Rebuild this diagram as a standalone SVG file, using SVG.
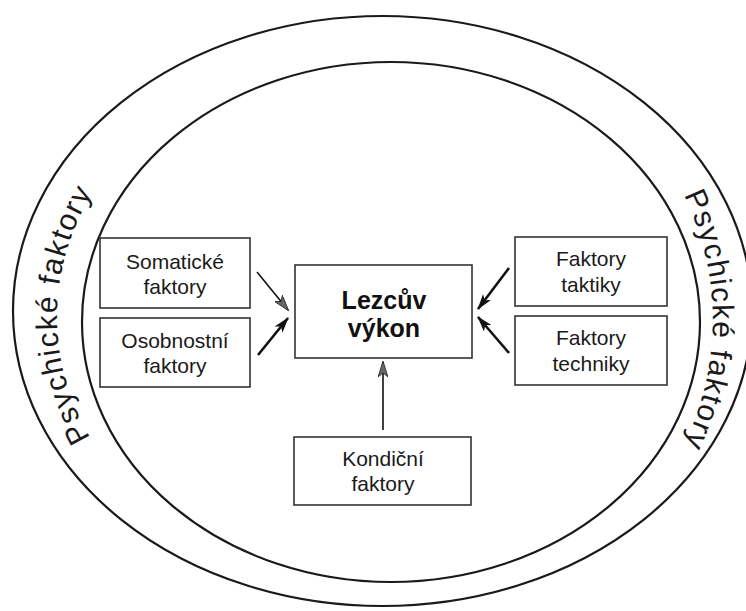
<svg xmlns="http://www.w3.org/2000/svg" width="746" height="611" viewBox="0 0 746 611">
<style>
.ring{fill:none;stroke:#1a1a1a;stroke-width:2.2}
.box{fill:#fff;stroke:#333;stroke-width:1.6}
.lbl{font-family:"Liberation Sans",Arial,sans-serif;font-size:21px;fill:#1a1a1a;text-anchor:middle}
.main{font-family:"Liberation Sans",Arial,sans-serif;font-size:25px;font-weight:bold;fill:#111;text-anchor:middle}
.ringtxt{font-family:"Liberation Sans",Arial,sans-serif;font-size:30px;fill:#1a1a1a;letter-spacing:1.5px}
.arr{stroke:#111;fill:none}
</style>
<defs>
<marker id="hd" viewBox="0 0 16 10" refX="15" refY="5" markerWidth="16" markerHeight="10" markerUnits="userSpaceOnUse" orient="auto">
<path d="M0,0 L16,5 L0,10 L4,5 Z" fill="#111"/>
</marker>
<marker id="hg" viewBox="0 0 16 10" refX="15" refY="5" markerWidth="16" markerHeight="10" markerUnits="userSpaceOnUse" orient="auto">
<path d="M0,0 L16,5 L0,10 L4,5 Z" fill="#666" stroke="#222" stroke-width="0.8"/>
</marker>
<path id="leftArc" d="M105,460 A329,275 0 0 1 108,170"/>
<path id="rightArc" d="M676,180 A318,300 0 0 1 676,460"/>
</defs>
<g id="rings">
<ellipse class="ring" cx="382.5" cy="311" rx="369.5" ry="295"/>
<ellipse class="ring" cx="391" cy="322" rx="309" ry="260"/>
<text class="ringtxt"><textPath href="#leftArc" startOffset="50%" text-anchor="middle">Psychické faktory</textPath></text>
<text class="ringtxt"><textPath href="#rightArc" startOffset="50%" text-anchor="middle">Psychické faktory</textPath></text>
</g>
<g id="connectors">
<line class="arr" x1="257" y1="272" x2="288" y2="310" stroke-width="1.6" marker-end="url(#hg)"/>
<line class="arr" x1="258" y1="355" x2="288" y2="318" stroke-width="2.6" marker-end="url(#hd)"/>
<line class="arr" x1="509" y1="268" x2="478" y2="309" stroke-width="2.6" marker-end="url(#hd)"/>
<line class="arr" x1="509" y1="353" x2="478" y2="317" stroke-width="2.6" marker-end="url(#hd)"/>
<line class="arr" x1="383" y1="430" x2="383" y2="362" stroke-width="1.6" marker-end="url(#hg)"/>
</g>
<g id="somaticke">
<rect class="box" x="100" y="238" width="150" height="70"/>
<text class="lbl" x="175" y="269">Somatické</text>
<text class="lbl" x="175" y="294">faktory</text>
</g>
<g id="osobnostni">
<rect class="box" x="100" y="318" width="150" height="69"/>
<text class="lbl" x="175" y="348">Osobnostní</text>
<text class="lbl" x="175" y="373">faktory</text>
</g>
<g id="vykon">
<rect class="box" x="295" y="265" width="177" height="93"/>
<text class="main" x="384" y="309">Lezcův</text>
<text class="main" x="384" y="337">výkon</text>
</g>
<g id="taktiky">
<rect class="box" x="515" y="237" width="152" height="69"/>
<text class="lbl" x="591" y="266">Faktory</text>
<text class="lbl" x="591" y="292">taktiky</text>
</g>
<g id="techniky">
<rect class="box" x="515" y="316" width="152" height="69"/>
<text class="lbl" x="591" y="345">Faktory</text>
<text class="lbl" x="591" y="371">techniky</text>
</g>
<g id="kondicni">
<rect class="box" x="294" y="437" width="177" height="68"/>
<text class="lbl" x="383" y="466">Kondiční</text>
<text class="lbl" x="383" y="491">faktory</text>
</g>
</svg>
